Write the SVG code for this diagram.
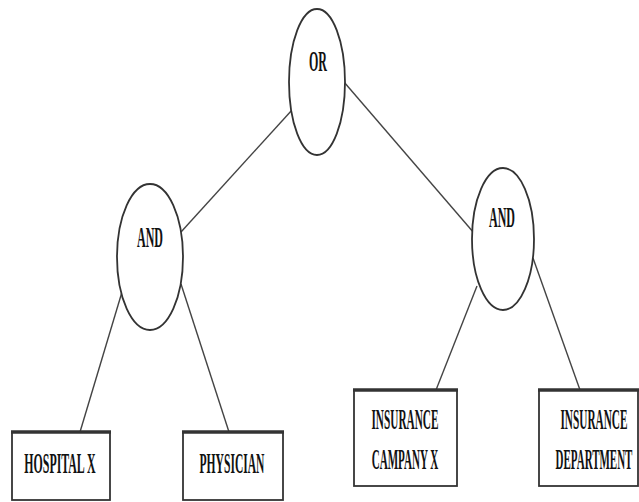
<svg xmlns="http://www.w3.org/2000/svg" width="639" height="502" viewBox="0 0 639 502">
<style>
.gate{fill:#fff;stroke:#333;stroke-width:1.8}
.box{fill:#fff;stroke:#333;stroke-width:1.8}
.top{stroke:#333;stroke-width:3.5}
.edge{stroke:#444;stroke-width:1.4;fill:none}
text{font-family:"Liberation Serif","Times New Roman",serif;font-weight:bold;font-size:30px;fill:#111;text-anchor:middle}
</style>
<rect width="639" height="502" fill="#fff"/>
<g id="connectors">
<line class="edge" x1="181" y1="232" x2="292" y2="110"/>
<line class="edge" x1="344" y1="82" x2="474" y2="233"/>
<line class="edge" x1="122" y1="292" x2="80" y2="432"/>
<line class="edge" x1="181" y1="284" x2="229" y2="432"/>
<line class="edge" x1="477" y1="286" x2="436" y2="390"/>
<line class="edge" x1="533" y1="258" x2="580" y2="390"/>
</g>
<g id="or">
<ellipse class="gate" cx="317" cy="82" rx="28" ry="73"/>
<text transform="translate(318,71) scale(0.4,1)">OR</text>
</g>
<g id="and-left">
<ellipse class="gate" cx="150" cy="257" rx="33" ry="73"/>
<text transform="translate(150,247) scale(0.4,1)">AND</text>
</g>
<g id="and-right">
<ellipse class="gate" cx="503" cy="239" rx="31" ry="71"/>
<text transform="translate(502,227) scale(0.4,1)">AND</text>
</g>
<g id="hospital">
<rect class="box" x="12" y="432" width="98" height="68"/>
<line class="top" x1="11" y1="432" x2="111" y2="432"/>
<text transform="translate(60,473) scale(0.396,1)">HOSPITAL X</text>
</g>
<g id="physician">
<rect class="box" x="183" y="432" width="100" height="68"/>
<line class="top" x1="182" y1="432" x2="284" y2="432"/>
<text transform="translate(232,473) scale(0.386,1)">PHYSICIAN</text>
</g>
<g id="insurance-company">
<rect class="box" x="354" y="390" width="103" height="96"/>
<line class="top" x1="353" y1="390" x2="458" y2="390"/>
<text transform="translate(405,429) scale(0.376,1)">INSURANCE</text>
<text transform="translate(405,469) scale(0.369,1)">CAMPANY X</text>
</g>
<g id="insurance-department">
<rect class="box" x="539" y="390" width="99" height="96"/>
<line class="top" x1="538" y1="390" x2="639" y2="390"/>
<text transform="translate(594,429) scale(0.376,1)">INSURANCE</text>
<text transform="translate(594,469) scale(0.366,1)">DEPARTMENT</text>
</g>
</svg>
